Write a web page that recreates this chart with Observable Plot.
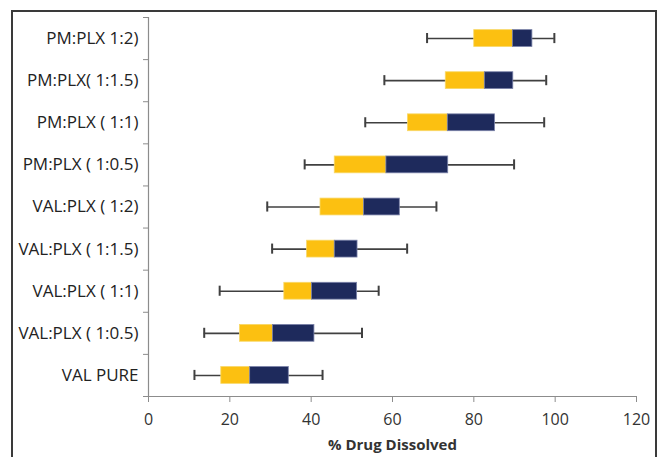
<!DOCTYPE html>
<html>
<head>
<meta charset="utf-8">
<script src="https://cdn.jsdelivr.net/npm/d3@7"></script>
<script src="https://cdn.jsdelivr.net/npm/@observablehq/plot@0.6"></script>
<style>
  html, body { margin: 0; padding: 0; background: #fff; }
  #wrap { position: relative; width: 662px; height: 457px; overflow: hidden; }
  #border { position: absolute; left: 11px; top: 10px; width: 642px; height: 470px; border: 2px solid #3a3a3a; pointer-events: none; }
  g[aria-label="x-axis label"] text { font-weight: bold; font-size: 15px; }
</style>
</head>
<body>
<div id="wrap"><div id="border"></div></div>
<script>
const categories = ["PM:PLX 1:2)", "PM:PLX( 1:1.5)", "PM:PLX ( 1:1)", "PM:PLX ( 1:0.5)", "VAL:PLX ( 1:2)", "VAL:PLX ( 1:1.5)", "VAL:PLX ( 1:1)", "VAL:PLX ( 1:0.5)", "VAL PURE"];
const minVals = [68.5, 58.0, 53.3, 38.4, 29.2, 30.4, 17.5, 13.7, 11.3];
const q1Vals = [80.1, 73.1, 63.8, 45.8, 42.3, 39.0, 33.4, 22.5, 17.9];
const medianVals = [89.6, 82.7, 73.6, 58.5, 53.0, 45.8, 40.2, 30.6, 25.0];
const q3Vals = [94.4, 89.7, 85.2, 73.7, 61.8, 51.4, 51.3, 40.8, 34.5];
const maxVals = [99.8, 97.8, 97.3, 89.9, 70.8, 63.6, 56.6, 52.5, 42.8];
const xTicks = [0, 20, 40, 60, 80, 100, 120];

const rows = categories.map((c, i) => ({
  cat: c, pos: i + 0.5,
  min: minVals[i], q1: q1Vals[i], med: medianVals[i], q3: q3Vals[i], max: maxVals[i]
}));
const boxH = 0.2, capH = 0.12;

const fontFam = "'Open Sans', sans-serif";
const chart = Plot.plot({
  width: 662,
  height: 457,
  marginLeft: 148,
  marginRight: 26,
  marginTop: 17,
  marginBottom: 61,
  style: { fontFamily: fontFam, fontSize: "16px", color: "#333", background: "transparent" },
  x: { domain: [0, 120] },
  y: { domain: [0, 9], reverse: true },
  marks: [
    Plot.ruleY([9], { stroke: "#8c8c8c", strokeWidth: 1.2 }),
    Plot.ruleX([0], { stroke: "#8c8c8c", strokeWidth: 1.2 }),
    Plot.axisX({ ticks: xTicks, tickSize: 6, tickPadding: 11, stroke: "#8c8c8c", fill: "#333",
      label: "% Drug Dissolved", labelAnchor: "center", labelArrow: "none", labelOffset: 53, fontSize: 16 }),
    Plot.axisY({ ticks: d3.range(0, 10), tickSize: 5, tickFormat: () => "", stroke: "#8c8c8c", label: null }),
    Plot.axisY({ ticks: rows.map(d => d.pos), tickSize: 0, tickPadding: 10,
      tickFormat: v => categories[Math.floor(v)], label: null, fill: "#222", fontSize: 17 }),
    Plot.ruleY(rows, { y: "pos", x1: "min", x2: "max", stroke: "#404040", strokeWidth: 1.6 }),
    Plot.ruleX(rows, { x: "min", y1: d => d.pos - capH, y2: d => d.pos + capH, stroke: "#404040", strokeWidth: 2 }),
    Plot.ruleX(rows, { x: "max", y1: d => d.pos - capH, y2: d => d.pos + capH, stroke: "#404040", strokeWidth: 2 }),
    Plot.rectX(rows, { x1: "q1", x2: "med", y1: d => d.pos - boxH, y2: d => d.pos + boxH, fill: "#FCC011", stroke: "#F8D868", strokeWidth: 0.8 }),
    Plot.rectX(rows, { x1: "med", x2: "q3", y1: d => d.pos - boxH, y2: d => d.pos + boxH, fill: "#1E2A5C", stroke: "#7a82a8", strokeWidth: 0.8 })
  ]
});
document.getElementById("wrap").prepend(chart);
</script>
</body>
</html>
